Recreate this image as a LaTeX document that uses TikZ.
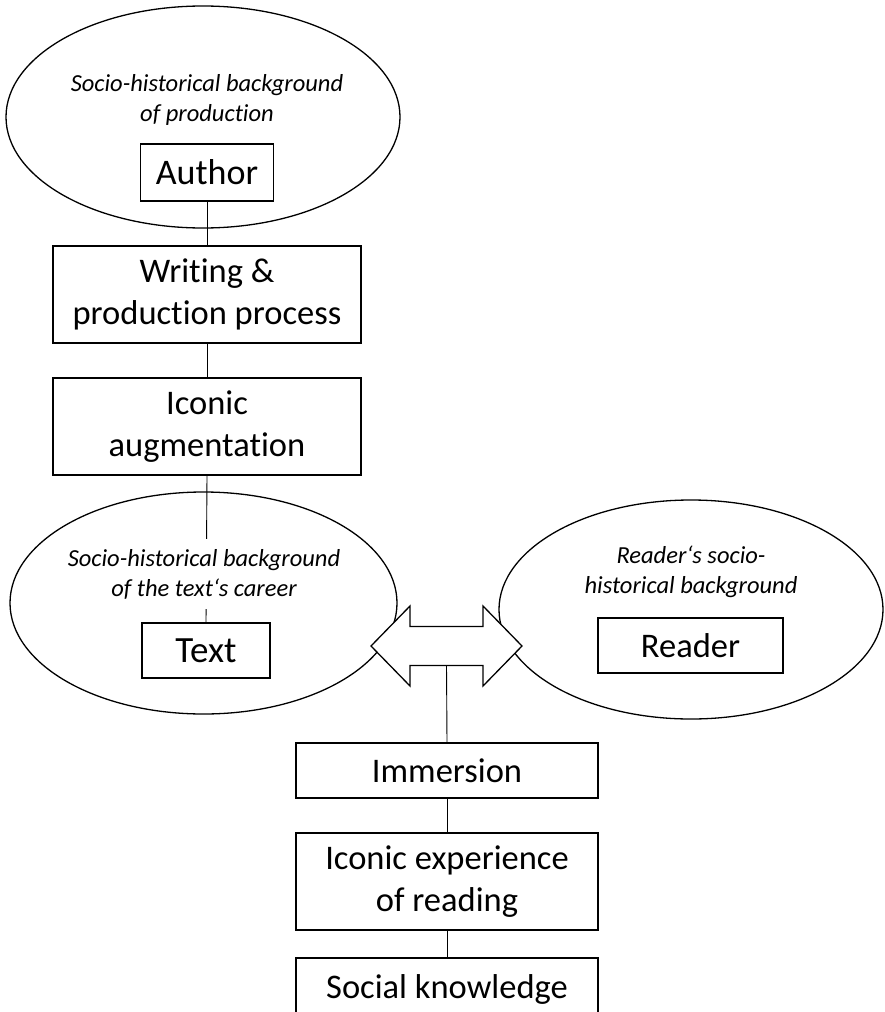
\documentclass[tikz,border=0pt]{standalone}
\usepackage{fontspec}
\setmainfont{Carlito}[Ligatures={NoCommon,NoContextual}]
\usepackage{tikz}
\usetikzlibrary{shapes.geometric}

\begin{document}
\begin{tikzpicture}[
  x=1pt,y=-1pt,
  font=\fontsize{34.5}{42}\selectfont,
  box/.style={draw,line width=1.3pt,fill=white,align=center,inner sep=0pt},
  tallbox/.style={box,minimum width=308pt,minimum height=97pt},
  lowbox/.style={box,minimum width=302pt,minimum height=55pt},
  bgoval/.style={draw,ellipse,line width=1.3pt,inner sep=0pt},
  bglabel/.style={font=\fontsize{24.5}{30}\selectfont\itshape,align=center,inner sep=0pt},
  link/.style={line width=0.9pt},
  swapshape/.style={draw,line width=1.3pt,fill=white,line join=miter}
]
  \useasboundingbox (0,0) rectangle (884,1012);
  \clip (0,0) rectangle (884,1012);

  % socio-historical backgrounds
  \node[bgoval,minimum width=394pt,minimum height=222pt] (prodbg) at (203,117) {};
  \node[bgoval,minimum width=387pt,minimum height=222pt] (careerbg) at (203.5,603) {};
  \node[bgoval,minimum width=384pt,minimum height=219pt] (readerbg) at (691,609.5) {};

  % production chain
  \node[box,minimum width=133pt,minimum height=57pt,font=\fontsize{36}{42}\selectfont] (author) at (207,172.5) {Author};
  \node[tallbox] (writing) at (207,294.5) {Writing \&\\production process};
  \node[tallbox] (iconic) at (207,426.5) {Iconic\\augmentation};
  \node[box,minimum width=128pt,minimum height=55pt,font=\fontsize{37}{42}\selectfont] (textnode) at (206,650.5) {Text};
  \draw[link] (author.south)--(writing.north);
  \draw[link] (writing.south)--(iconic.north);
  \draw[link] (iconic.south)--(textnode.north);

  \node[bglabel] (prodlbl) at (207,100) {Socio-historical background\\of production};
  \node[bglabel,fill=white,inner xsep=2pt,inner ysep=10pt] (careerlbl) at (204,574) {Socio-historical background\\of the text‘s career};
  \node[bglabel] (readerlbl) at (691,572) {Reader‘s socio-\\historical background};

  % reader side
  \node[box,minimum width=185pt,minimum height=55pt] (reader) at (690.5,645.5) {Reader};
  \node[lowbox] (immersion) at (447,770.5) {Immersion};
  \node[box,minimum width=302pt,minimum height=97pt] (experience) at (447,881.5) {Iconic experience\\of reading};
  \node[lowbox,minimum height=63pt] (social) at (447,989.5) {Social knowledge};
  \draw[link] (immersion.south)--(experience.north);
  \draw[link] (experience.south)--(social.north);

  % two-way arrow between text and reader
  \coordinate (swap) at (446.5,646);
  \coordinate (swapbase) at (446.5,665);
  \draw[swapshape] (swap) ++(-75.5,0) -- ++(39,-40) -- ++(0,20.5) -- ++(73,0) -- ++(0,-20.5)
    -- ++(39,40) -- ++(-39,40) -- ++(0,-20.5) -- ++(-73,0) -- ++(0,20.5) -- cycle;
  \draw[link] (swapbase)--(immersion.north);
\end{tikzpicture}
\end{document}
